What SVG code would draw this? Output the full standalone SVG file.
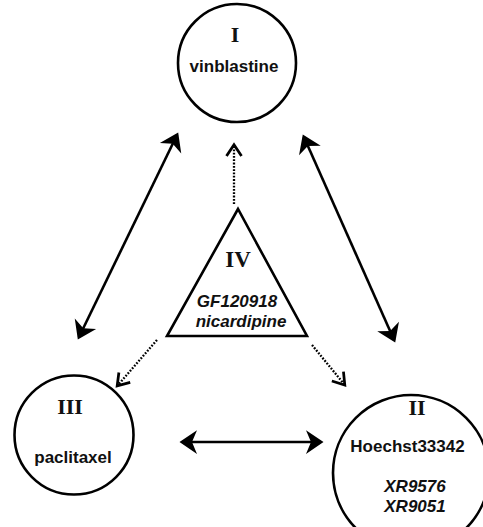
<svg xmlns="http://www.w3.org/2000/svg" width="483" height="527" viewBox="0 0 483 527">
<style>
.node{fill:#fff;stroke:#000;stroke-width:2.6}
.num{font-family:"Liberation Serif","Times New Roman",serif;font-weight:bold;font-size:22px;text-anchor:middle;fill:#111}
.lbl{font-family:"Liberation Sans",Arial,sans-serif;font-weight:bold;font-size:17px;text-anchor:middle;fill:#111}
.it{font-style:italic}
.solid{stroke:#000;stroke-width:2.6;fill:none}
.dot{stroke:#000;stroke-width:2.3;fill:none;stroke-dasharray:1.8 1.5}
</style>
<defs>
<marker id="head" markerUnits="userSpaceOnUse" orient="auto-start-reverse" refX="-2" refY="0" markerWidth="30" markerHeight="30" viewBox="-16 -12 20 24" overflow="visible">
<path d="M0,0 L-14,-9.5 L-10,0 L-14,9.5 Z" fill="#000"/>
</marker>
<marker id="chev" markerUnits="userSpaceOnUse" orient="auto" refX="-1" refY="0" markerWidth="20" markerHeight="20" viewBox="-12 -8 14 16" overflow="visible">
<path d="M-9,-6 L0,0 L-9,6" fill="none" stroke="#000" stroke-width="2.2"/>
</marker>
</defs>
<g id="connectors">
<line class="solid" x1="78.9" y1="337.2" x2="177.1" y2="134.8" marker-start="url(#head)" marker-end="url(#head)"/>
<line class="solid" x1="303.8" y1="136.8" x2="394.2" y2="340.2" marker-start="url(#head)" marker-end="url(#head)"/>
<line class="solid" x1="182" y1="442" x2="321" y2="442" marker-start="url(#head)" marker-end="url(#head)"/>
<line class="dot" x1="234" y1="204" x2="234" y2="146" marker-end="url(#chev)"/>
<line class="dot" x1="157" y1="340" x2="118" y2="385" marker-end="url(#chev)"/>
<line class="dot" x1="312" y1="345" x2="344" y2="384" marker-end="url(#chev)"/>
</g>
<g id="node-I">
<circle class="node" cx="237" cy="63" r="59"/>
<text class="num" x="235" y="42">I</text>
<text class="lbl" x="234" y="72">vinblastine</text>
</g>
<g id="node-II">
<circle class="node" cx="411" cy="473" r="78"/>
<text class="num" x="417" y="415">II</text>
<text class="lbl" x="407.5" y="452">Hoechst33342</text>
<text class="lbl it" x="415" y="492">XR9576</text>
<text class="lbl it" x="415" y="512">XR9051</text>
</g>
<g id="node-III">
<circle class="node" cx="74" cy="435" r="59.5"/>
<text class="num" x="70" y="414">III</text>
<text class="lbl" x="73" y="463">paclitaxel</text>
</g>
<g id="node-IV">
<polygon class="node" points="238,209 167,336 307,336"/>
<text class="num" x="238" y="267" style="font-size:23px">IV</text>
<text class="lbl it" x="237" y="307">GF120918</text>
<text class="lbl it" x="241" y="327">nicardipine</text>
</g>
</svg>
